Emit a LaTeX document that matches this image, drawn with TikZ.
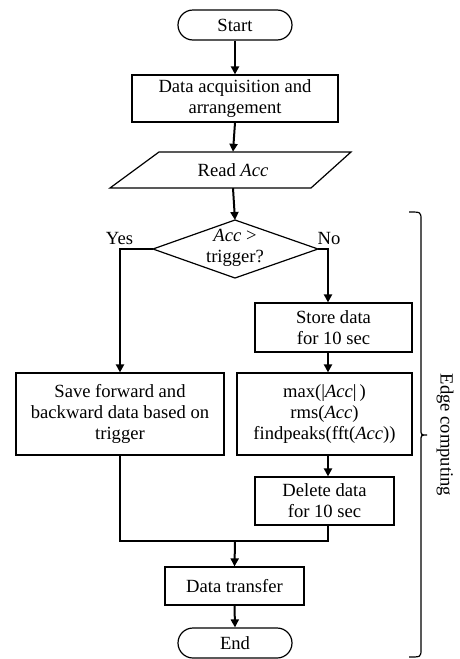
\documentclass[tikz,border=0pt]{standalone}
\usepackage{fontspec}
\setmainfont{Liberation Serif}
\usetikzlibrary{arrows.meta,shapes.misc,shapes.geometric}
\tikzset{
  box/.style={draw, line width=1.2pt, align=center, inner sep=0pt},
  term/.style={box, rounded rectangle},
  arr/.style={line width=2pt, -{Triangle[length=8pt,width=8pt]}},
  thin/.style={line width=1.2pt},
  lbl/.style={inner sep=0pt, align=center}
}
\begin{document}
\begin{tikzpicture}[x=1pt,y=-1pt,font=\fontsize{18.6}{21}\selectfont]
\useasboundingbox (0,0) rectangle (459,659);
\node[term, minimum width=114, minimum height=30] (start) at (235,25) {Start};
\node[box, minimum width=206, minimum height=47] (acq) at (235,98.5) {Data acquisition and\\arrangement};
\node[lbl, minimum width=100, minimum height=36] (read) at (233,170) {Read \textit{Acc}};
\draw[thin] (159,152) -- (351,152) -- (311,188) -- (110,188) -- cycle;
\coordinate (dT) at (235,220);
\coordinate (dL) at (153,249);
\coordinate (dR) at (318,249);
\coordinate (dB) at (235,278);
\draw[thin] (dT) -- (dR) -- (dB) -- (dL) -- cycle;
\node[lbl] (dec) at (235,247.5) {\textit{Acc} >\\trigger?};
\node[lbl] (yes) at (119.5,238) {Yes};
\node[lbl] (no) at (329,238) {No};
\node[box, minimum width=157, minimum height=49] (store) at (333.5,327.5) {Store data\\for 10 sec};
\node[box, minimum width=208, minimum height=82] (save) at (120,414) {Save forward and\\backward data based on\\trigger};
\node[box, minimum width=175, minimum height=82] (maxb) at (324.5,414) {max(|\textit{Acc}|\,)\\rms(\textit{Acc})\\findpeaks(fft(\textit{Acc}))};
\node[box, minimum width=139, minimum height=48] (del) at (324.5,501) {Delete data\\for 10 sec};
\node[box, minimum width=139, minimum height=38] (xfer) at (234.5,586) {Data transfer};
\node[term, minimum width=114, minimum height=30] (end) at (235,643) {End};
\coordinate (colR) at (328,249);
\coordinate (mL) at (120,541);
\coordinate (mR) at (328,541);
\coordinate (mC) at (235,541);
% connectors
\draw[arr] (start.south) -- (acq.north);
\draw[arr] (acq.south) -- (read.north);
\draw[arr] (read.south) -- (dT);
\draw[arr] (dL) -| (save.north);
\draw[arr] (dR) -- (colR) -- (colR |- store.north);
\draw[arr] (colR |- store.south) -- (colR |- maxb.north);
\draw[arr] (colR |- maxb.south) -- (colR |- del.north);
\draw[thin] (save.south) -- (mL) -- (mR) -- (colR |- del.south);
\draw[arr] (mC) -- (xfer.north);
\draw[arr] (xfer.south) -- (end.north);
% brace
\draw[thin] (409,212) .. controls (421,212) .. (421,220) -- (421,429)
  .. controls (421,435) .. (427,435) .. controls (421,435) .. (421,441)
  -- (421,649) .. controls (421,657) .. (409,657);
\node[lbl, rotate=-90] (edge) at (445,435) {Edge computing};
\end{tikzpicture}
\end{document}
